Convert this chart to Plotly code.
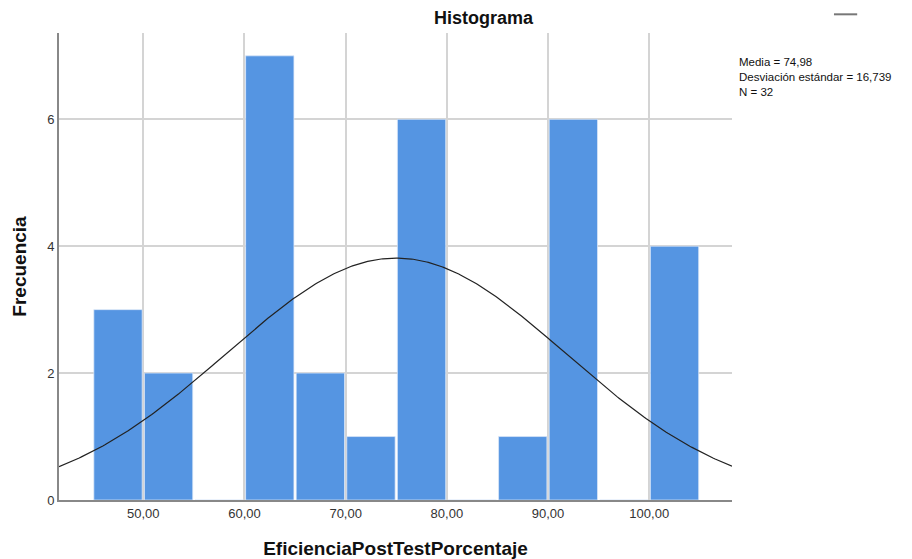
import numpy as np
import plotly.graph_objects as go

bin_edges = [45, 50, 55, 60, 65, 70, 75, 80, 85, 90, 95, 100, 105]
counts = [3, 2, 0, 7, 2, 1, 6, 0, 1, 6, 0, 4]
mean = 74.98
std = 16.739
n = 32
x_ticks = [50, 60, 70, 80, 90, 100]
y_ticks = [0, 2, 4, 6]

edges = np.array(bin_edges, dtype=float)
centers = (edges[:-1] + edges[1:]) / 2
bw = edges[1] - edges[0]

x_range = [41.67, 108.18]
y_range = [0, 7.36]

xc = np.linspace(x_range[0], x_range[1], 400)
yc = n * bw / (std * np.sqrt(2 * np.pi)) * np.exp(-0.5 * ((xc - mean) / std) ** 2)

fig = go.Figure()
fig.add_trace(go.Bar(
    x=centers, y=counts, width=bw * 0.955,
    marker=dict(color="#5595e2", line=dict(color="rgba(220,232,248,0.9)", width=0.8)),
    showlegend=False, hoverinfo="x+y",
))
fig.add_trace(go.Scatter(
    x=xc, y=yc, mode="lines", line=dict(color="#222222", width=1.2),
    showlegend=False, hoverinfo="skip",
))

stat_text = "<br>".join([
    f"Media = {mean:.2f}".replace(".", ","),
    f"Desviación estándar = {std:.3f}".replace(".", ","),
    f"N = {n}",
])

font = "Liberation Sans, Arial, sans-serif"
fig.update_layout(
    width=912, height=559,
    margin=dict(l=59, r=180, t=33, b=59),
    plot_bgcolor="white", paper_bgcolor="white",
    separators=",.",
    font=dict(family=font, size=12, color="#333333"),
    xaxis=dict(
        range=x_range, tickvals=x_ticks, tickformat=".2f",
        showgrid=True, gridcolor="#d4d4d4", gridwidth=1.5,
        showline=True, linecolor="#888888", linewidth=2,
        ticks="", zeroline=False, automargin=False,
        tickfont=dict(size=13, color="#333333"),
        title=dict(text="<b>EficienciaPostTestPorcentaje</b>", font=dict(size=19, color="#111111"), standoff=26),
    ),
    yaxis=dict(
        range=y_range, tickvals=y_ticks,
        showgrid=True, gridcolor="#d4d4d4", gridwidth=1.5,
        showline=True, linecolor="#888888", linewidth=2,
        ticks="", zeroline=False, automargin=False,
        tickfont=dict(size=13, color="#333333"),
        title=dict(text="<b>Frecuencia</b>", font=dict(size=19, color="#111111"), standoff=16),
    ),
    annotations=[
        dict(text="<b>Histograma</b>", xref="paper", yref="paper", x=0.632, y=1,
             yshift=15, xanchor="center", yanchor="middle", showarrow=False,
             font=dict(size=18, color="#111111")),
        dict(text=stat_text, xref="paper", yref="paper", x=1.0, y=1, xshift=6, yshift=-22,
             xanchor="left", yanchor="top", align="left", showarrow=False, borderpad=0,
             font=dict(size=11.5, color="#111111")),
    ],
    shapes=[
        dict(type="line", xref="paper", yref="paper", x0=1.1515, x1=1.186, y0=1.04, y1=1.04,
             line=dict(color="#777777", width=2)),
    ],
)

fig.write_html("out.html", config={"displayModeBar": False},
               post_script="document.body.style.margin='0';document.body.style.overflow='hidden';")
